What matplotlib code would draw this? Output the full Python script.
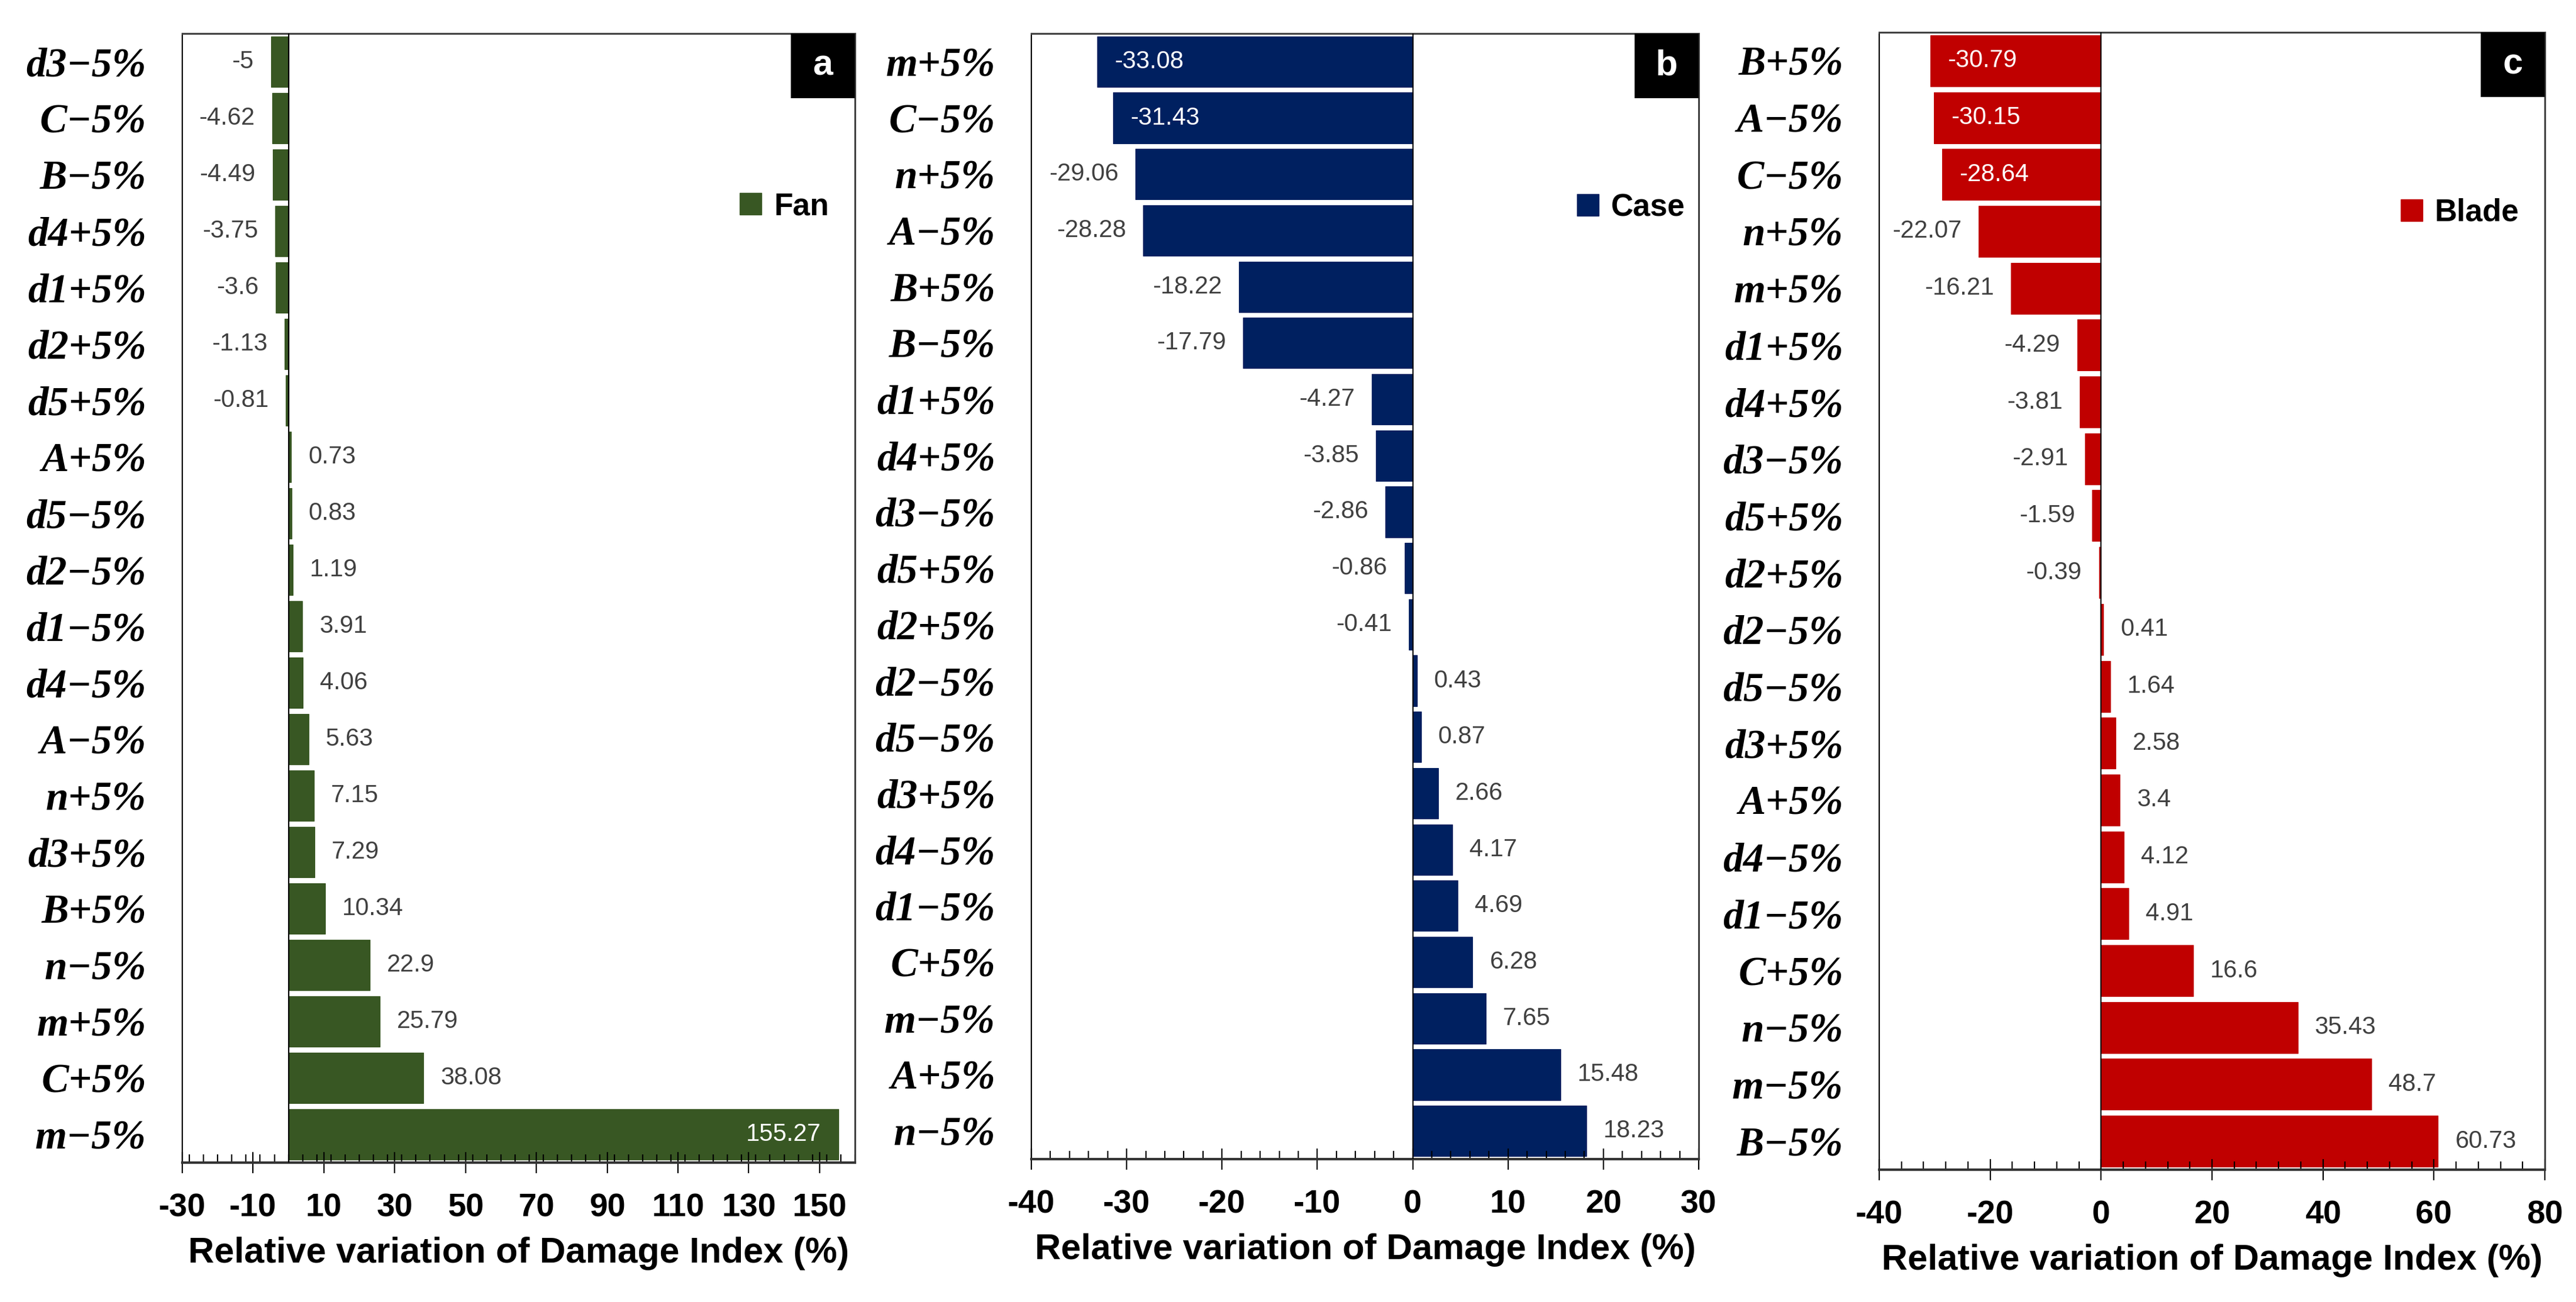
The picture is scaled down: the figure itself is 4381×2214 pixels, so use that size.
import matplotlib
matplotlib.use("Agg")
import matplotlib.pyplot as plt
import numpy as np
from matplotlib.patches import Patch, Rectangle
from matplotlib.ticker import FixedLocator, MultipleLocator

plt.rcParams["axes.unicode_minus"] = False

SANS = ["Liberation Sans", "DejaVu Sans"]
SERIF = ["Liberation Serif", "DejaVu Serif"]

# ---- data (top to bottom, as in the figure) ----
fan_labels = ["d3−5%", "C−5%", "B−5%", "d4+5%", "d1+5%", "d2+5%", "d5+5%", "A+5%", "d5−5%", "d2−5%",
              "d1−5%", "d4−5%", "A−5%", "n+5%", "d3+5%", "B+5%", "n−5%", "m+5%", "C+5%", "m−5%"]
fan_values = [-5, -4.62, -4.49, -3.75, -3.6, -1.13, -0.81, 0.73, 0.83, 1.19,
              3.91, 4.06, 5.63, 7.15, 7.29, 10.34, 22.9, 25.79, 38.08, 155.27]

case_labels = ["m+5%", "C−5%", "n+5%", "A−5%", "B+5%", "B−5%", "d1+5%", "d4+5%", "d3−5%", "d5+5%",
               "d2+5%", "d2−5%", "d5−5%", "d3+5%", "d4−5%", "d1−5%", "C+5%", "m−5%", "A+5%", "n−5%"]
case_values = [-33.08, -31.43, -29.06, -28.28, -18.22, -17.79, -4.27, -3.85, -2.86, -0.86,
               -0.41, 0.43, 0.87, 2.66, 4.17, 4.69, 6.28, 7.65, 15.48, 18.23]

blade_labels = ["B+5%", "A−5%", "C−5%", "n+5%", "m+5%", "d1+5%", "d4+5%", "d3−5%", "d5+5%", "d2+5%",
                "d2−5%", "d5−5%", "d3+5%", "A+5%", "d4−5%", "d1−5%", "C+5%", "n−5%", "m−5%", "B−5%"]
blade_values = [-30.79, -30.15, -28.64, -22.07, -16.21, -4.29, -3.81, -2.91, -1.59, -0.39,
                0.41, 1.64, 2.58, 3.4, 4.12, 4.91, 16.6, 35.43, 48.7, 60.73]

W, H = 4381, 2214
DPI = 100

# panel geometry in pixels: left, right, top, bottom
panels = [
    dict(name="Fan", letter="a", labels=fan_labels, values=fan_values, color="#385723",
         box=(310, 1454, 57, 1977), xlim=(-30, 160), major=np.arange(-30, 151, 20), minor=4,
         legend_right=1410, legend_y=351),
    dict(name="Case", letter="b", labels=case_labels, values=case_values, color="#002060",
         box=(1754, 2889, 57, 1971), xlim=(-40, 30), major=np.arange(-40, 31, 10), minor=2,
         legend_right=2866, legend_y=353),
    dict(name="Blade", letter="c", labels=blade_labels, values=blade_values, color="#C00000",
         box=(3196, 4328, 55, 1989), xlim=(-40, 80), major=np.arange(-40, 81, 20), minor=4,
         legend_right=4284, legend_y=362),
]

PAD = 21  # points between bar end and value label


def label_bars(ax, values, renderer):
    ax_box = ax.get_window_extent(renderer)
    for i, v in enumerate(values):
        sign = -1 if v < 0 else 1
        txt = ax.annotate(f"{v:g}", (v, i), xytext=(sign * PAD, 0), textcoords="offset points",
                          ha="right" if v < 0 else "left", va="center",
                          fontsize=30, family=SANS, color="#404040")
        bb = txt.get_window_extent(renderer)
        if bb.x0 < ax_box.x0 or bb.x1 > ax_box.x1:
            # no room outside the bar end: put it inside, like Excel does
            txt.xyann = (-sign * PAD, 0)
            txt.set_ha("left" if v < 0 else "right")
            txt.set_color("white")


fig = plt.figure(figsize=(W / DPI, H / DPI), dpi=DPI)
fig.patch.set_facecolor("white")

axes = []
for p in panels:
    l, r, t, b = p["box"]
    ax = fig.add_axes([l / W, 1 - b / H, (r - l) / W, (b - t) / H])
    y = np.arange(len(p["values"]))
    ax.barh(y, p["values"], height=0.9, color=p["color"], edgecolor=p["color"], linewidth=0.8)
    ax.axvline(0, color="black", lw=1.6, zorder=3)
    ax.set_xlim(*p["xlim"])
    ax.set_ylim(len(y) - 0.5, -0.5)
    ax.set_yticks(y)
    ax.set_yticklabels(p["labels"], family=SERIF, fontsize=50, fontweight="bold", fontstyle="italic")
    ax.tick_params(axis="y", length=0, pad=44)

    ax.xaxis.set_major_locator(FixedLocator(p["major"]))
    ax.xaxis.set_minor_locator(MultipleLocator(p["minor"]))
    ax.tick_params(axis="x", which="major", direction="inout", length=26, width=1.6, pad=24,
                   labelsize=40, color="black")
    ax.tick_params(axis="x", which="minor", direction="in", length=10, width=1.6, color="black")
    for lab in ax.get_xticklabels():
        lab.set_family(SANS)
        lab.set_fontweight("bold")

    ax.set_xlabel("Relative variation of Damage Index (%)", family=SANS, fontsize=44,
                  fontweight="bold", labelpad=16)

    for side in ("top", "right"):
        ax.spines[side].set_color("#404040")
        ax.spines[side].set_linewidth(2.2)
    ax.spines["left"].set_color("black")
    ax.spines["left"].set_linewidth(1.6)
    ax.spines["bottom"].set_color("#333333")
    ax.spines["bottom"].set_linewidth(3)

    # panel letter in a black square, top-right corner
    bw, bh = 109 / (r - l), 110 / (b - t)
    ax.add_patch(Rectangle((1 - bw, 1 - bh), bw, bh, transform=ax.transAxes,
                           facecolor="black", edgecolor="none", zorder=5, clip_on=False))
    ax.text(1 - bw / 2, 1 - bh / 2, p["letter"], transform=ax.transAxes, ha="center", va="center",
            color="white", fontsize=44, fontweight="bold", family=SANS, zorder=6)

    leg_x = (p["legend_right"] - l) / (r - l)
    leg_y = (b - p["legend_y"]) / (b - t)
    ax.legend(handles=[Patch(facecolor=p["color"], edgecolor=p["color"], label=p["name"])],
              loc="center right", bbox_to_anchor=(leg_x, leg_y), frameon=False,
              prop=dict(family=SANS, size=38, weight="bold"), handlelength=0.7, handleheight=0.7,
              handletextpad=0.4, borderpad=0, borderaxespad=0)
    axes.append((ax, p))

fig.canvas.draw()
renderer = fig.canvas.get_renderer()
for ax, p in axes:
    label_bars(ax, p["values"], renderer)

fig.savefig("out.png", dpi=DPI, facecolor="white")
